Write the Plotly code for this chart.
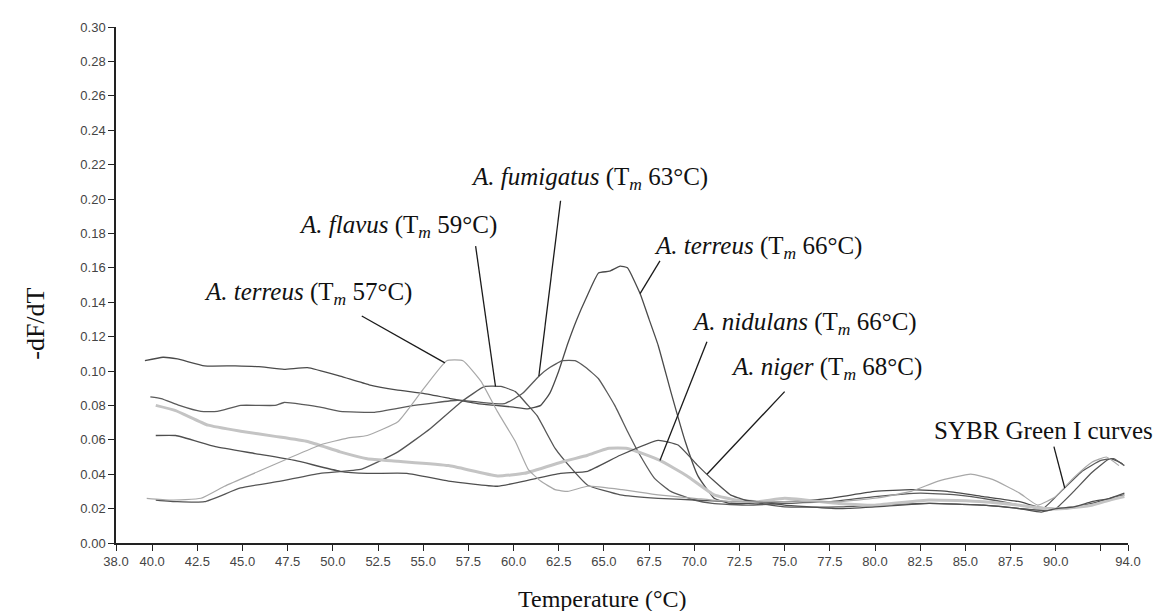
import numpy as np
import plotly.graph_objects as go

# ---------------- data ----------------
t_terreus66 = [39.6, 40.6, 41.4, 42.9, 44.6, 45.9, 47.3, 48.6, 50.4, 52.0, 53.5, 55.0, 56.5, 58.0, 59.0, 60.0,
               60.8, 61.5, 62.0, 62.5, 63.0, 63.5, 64.0, 64.7, 65.3, 65.9, 66.3, 67.0, 67.5, 68.0, 68.7, 69.5,
               70.2, 71.1, 72.0, 73.0, 75.0, 77.5, 80.0, 82.0, 84.0, 86.0, 88.0, 89.0, 90.0, 91.0, 92.0, 93.0, 93.8]
v_terreus66 = [0.106, 0.108, 0.107, 0.103, 0.103, 0.1025, 0.101, 0.102, 0.097, 0.092, 0.089, 0.087, 0.084, 0.081,
               0.080, 0.079, 0.078, 0.080, 0.087, 0.100, 0.116, 0.130, 0.142, 0.157, 0.158, 0.161, 0.160, 0.145,
               0.130, 0.115, 0.088, 0.059, 0.039, 0.026, 0.023, 0.023, 0.024, 0.026, 0.030, 0.031, 0.030, 0.027,
               0.024, 0.021, 0.020, 0.021, 0.023, 0.026, 0.028]

t_fumigatus = [39.9, 40.5, 41.5, 42.7, 43.6, 44.9, 46.8, 47.3, 49.3, 50.4, 52.3, 54.5, 56.9, 58.0, 59.5, 60.5,
               61.4, 62.0, 62.7, 63.4, 64.0, 64.7, 65.6, 66.3, 67.0, 67.8, 68.7, 70.0, 71.0, 73.0, 75.0, 77.5,
               80.0, 82.5, 84.5, 86.5, 88.5, 89.3, 90.3, 91.5, 92.5, 93.2, 93.8]
v_fumigatus = [0.085, 0.084, 0.080, 0.0765, 0.0765, 0.080, 0.080, 0.0817, 0.079, 0.0765, 0.076, 0.080, 0.083,
               0.082, 0.081, 0.087, 0.097, 0.102, 0.106, 0.106, 0.102, 0.0955, 0.080, 0.065, 0.051, 0.0376, 0.030,
               0.025, 0.023, 0.022, 0.023, 0.024, 0.027, 0.029, 0.028, 0.025, 0.021, 0.020, 0.030, 0.042, 0.048,
               0.049, 0.045]

t_flavus = [40.2, 41.4, 42.9, 44.9, 47.1, 49.3, 51.6, 53.6, 55.4, 57.1, 58.4, 59.3, 60.1, 60.8, 61.3, 62.3,
            63.2, 64.1, 65.9, 68.0, 70.0, 72.0, 73.0, 75.0, 78.0, 80.0, 83.0, 86.0, 88.0, 89.3, 90.0, 91.0,
            92.0, 93.0, 93.7]
v_flavus = [0.025, 0.024, 0.024, 0.032, 0.036, 0.0405, 0.043, 0.053, 0.0666, 0.082, 0.091, 0.091, 0.088, 0.080,
            0.074, 0.055, 0.0434, 0.0336, 0.028, 0.026, 0.025, 0.024, 0.024, 0.021, 0.021, 0.022, 0.023, 0.022,
            0.020, 0.019, 0.020, 0.030, 0.041, 0.049, 0.046]

t_terreus57 = [39.7, 41.0, 42.7, 44.0, 45.9, 47.5, 49.3, 50.8, 51.9, 53.6, 54.9, 56.3, 57.2, 58.2, 59.1, 60.1,
               60.8, 61.5, 62.3, 63.0, 64.1, 66.0, 68.0, 70.0, 72.0, 75.0, 78.0, 80.0, 82.0, 83.5, 85.3, 86.5,
               88.0, 89.0, 90.0, 91.0, 92.0, 92.8, 93.5]
v_terreus57 = [0.026, 0.025, 0.026, 0.033, 0.0417, 0.049, 0.057, 0.061, 0.0625, 0.0705, 0.088, 0.106, 0.106,
               0.094, 0.0765, 0.059, 0.043, 0.036, 0.031, 0.030, 0.033, 0.031, 0.028, 0.026, 0.024, 0.024, 0.024,
               0.026, 0.030, 0.036, 0.040, 0.037, 0.029, 0.022, 0.027, 0.038, 0.047, 0.050, 0.045]

t_nidulans = [40.2, 41.3, 43.1, 44.9, 46.8, 48.6, 50.4, 51.9, 53.6, 56.4, 59.1, 60.6, 62.8, 64.1, 65.2, 66.3,
              68.1, 69.6, 71.1, 72.3, 73.5, 75.0, 78.0, 80.0, 83.0, 86.0, 88.0, 89.5, 90.5, 92.0, 93.0, 93.8]
v_nidulans = [0.080, 0.077, 0.0685, 0.065, 0.062, 0.059, 0.053, 0.049, 0.0475, 0.045, 0.039, 0.0405, 0.0475,
              0.051, 0.055, 0.055, 0.048, 0.039, 0.028, 0.025, 0.024, 0.026, 0.023, 0.022, 0.025, 0.024, 0.022,
              0.020, 0.020, 0.022, 0.025, 0.027]

t_niger = [40.2, 41.3, 43.5, 45.7, 47.9, 50.4, 51.9, 54.1, 56.4, 59.1, 60.6, 62.6, 64.1, 65.9, 68.0, 69.1,
           70.2, 71.1, 72.0, 72.8, 75.0, 78.0, 80.0, 83.0, 86.0, 88.0, 89.2, 90.0, 91.0, 92.0, 93.0, 93.8]
v_niger = [0.0625, 0.0625, 0.056, 0.052, 0.048, 0.0417, 0.0405, 0.0405, 0.036, 0.033, 0.036, 0.0405, 0.0417,
           0.051, 0.0597, 0.057, 0.045, 0.036, 0.028, 0.025, 0.022, 0.020, 0.021, 0.023, 0.022, 0.020, 0.018,
           0.020, 0.021, 0.024, 0.026, 0.029]

x_tickvals = [38.0, 40.0, 42.5, 45.0, 47.5, 50.0, 52.5, 55.0, 57.5, 60.0, 62.5, 65.0, 67.5, 70.0, 72.5, 75.0,
              77.5, 80.0, 82.5, 85.0, 87.5, 90.0, 92.5, 94.0]
x_ticktext = ["38.0", "40.0", "42.5", "45.0", "47.5", "50.0", "52.5", "55.0", "57.5", "60.0", "62.5", "65.0",
              "67.5", "70.0", "72.5", "75.0", "77.5", "80.0", "82.5", "85.0", "87.5", "90.0", "", "94.0"]

labels = ["<i>A. terreus</i> (T<sub><i>m</i></sub> 57°C)",
          "<i>A. flavus</i> (T<sub><i>m</i></sub> 59°C)",
          "<i>A. fumigatus</i> (T<sub><i>m</i></sub> 63°C)",
          "<i>A. terreus</i> (T<sub><i>m</i></sub> 66°C)",
          "<i>A. nidulans</i> (T<sub><i>m</i></sub> 66°C)",
          "<i>A. niger</i> (T<sub><i>m</i></sub> 68°C)",
          "SYBR Green I curves"]

# ---------------- figure ----------------
curves = [
    (t_terreus66, v_terreus66, "#4a4a4a", 1.3),
    (t_fumigatus, v_fumigatus, "#5a5a5a", 1.3),
    (t_flavus, v_flavus, "#555555", 1.3),
    (t_nidulans, v_nidulans, "#c4c4c4", 3.0),
    (t_niger, v_niger, "#4f4f4f", 1.3),
    (t_terreus57, v_terreus57, "#a8a8a8", 1.2),
]

fig = go.Figure()
for t, v, c, w in curves:
    fig.add_trace(go.Scatter(x=t, y=v, mode="lines",
                             line=dict(color=c, width=w, shape="spline", smoothing=0.4),
                             hoverinfo="skip", showlegend=False))

serif = "Liberation Serif, Times New Roman, serif"

# label text centre (x, y in data units), leader start, leader end temperature on curve
ann_specs = [
    (labels[0], 48.6, 0.1448, 51.6, 0.132, t_terreus57, v_terreus57, 56.2),
    (labels[1], 53.6, 0.184, 57.9, 0.1726, t_flavus, v_flavus, 59.0),
    (labels[2], 64.2, 0.212, 62.6, 0.199, t_fumigatus, v_fumigatus, 61.4),
    (labels[3], 73.5, 0.172, 68.1, 0.164, t_terreus66, v_terreus66, 67.0),
    (labels[4], 76.1, 0.1275, 70.7, 0.117, t_nidulans, v_nidulans, 68.1),
    (labels[5], 77.3, 0.1015, 75.0, 0.088, t_niger, v_niger, 70.7),
    (labels[6], 89.3, 0.0654, 89.9, 0.056, t_fumigatus, v_fumigatus, 90.5),
]

annotations = []
shapes = []
for text, tx, ty, sx, sy, ct, cv, et in ann_specs:
    annotations.append(dict(x=tx, y=ty, xref="x", yref="y", text=text, showarrow=False,
                            font=dict(family=serif, size=25, color="#111111"),
                            xanchor="center", yanchor="middle"))
    ey = float(np.interp(et, ct, cv))
    shapes.append(dict(type="line", xref="x", yref="y", x0=sx, y0=sy, x1=et, y1=ey,
                       line=dict(color="#1a1a1a", width=1.3)))

annotations.append(dict(x=0.481, y=-0.108, xref="paper", yref="paper", text="Temperature (°C)",
                        showarrow=False, font=dict(family=serif, size=24, color="#111111"),
                        xanchor="center", yanchor="middle"))
annotations.append(dict(x=-0.079, y=0.425, xref="paper", yref="paper", text="-dF/dT", textangle=-90,
                        showarrow=False, font=dict(family=serif, size=26, color="#111111"),
                        xanchor="center", yanchor="middle"))

tickfont = dict(family="Liberation Sans, Arial, sans-serif", size=13, color="#444444")

fig.update_layout(
    width=1166, height=611,
    margin=dict(l=108, r=46, t=17, b=76),
    plot_bgcolor="white", paper_bgcolor="white",
    showlegend=False,
    annotations=annotations,
    shapes=shapes,
    xaxis=dict(range=[38, 94], tickmode="array", tickvals=x_tickvals, ticktext=x_ticktext,
               showgrid=False, zeroline=False, showline=True, linecolor="#222222", linewidth=1.5,
               ticks="outside", ticklen=6, tickcolor="#222222", tickwidth=1, tickfont=tickfont),
    yaxis=dict(range=[0, 0.30], tickmode="linear", tick0=0, dtick=0.02, tickformat=".2f",
               showgrid=False, zeroline=False, showline=True, linecolor="#222222", linewidth=1.5,
               ticks="outside", ticklen=6, tickcolor="#222222", tickwidth=1, tickfont=tickfont),
)

fig.write_html("out.html")
